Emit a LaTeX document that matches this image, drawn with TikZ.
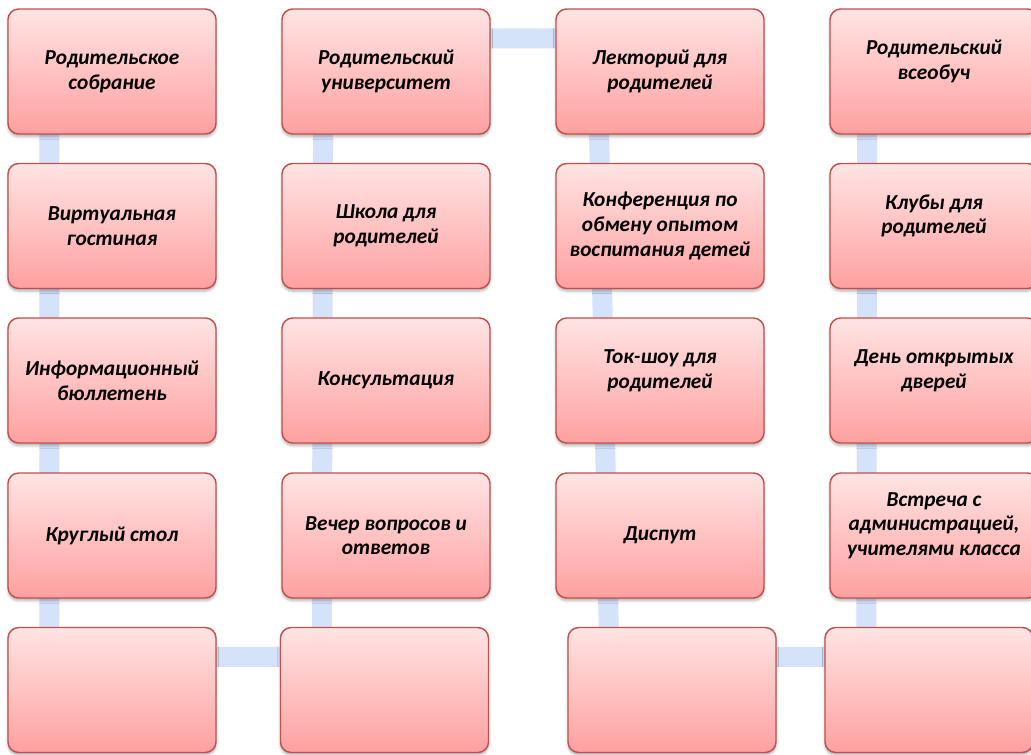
\documentclass[tikz,border=0pt]{standalone}
\usepackage{fontspec}
\setmainfont{Carlito}
\usetikzlibrary{calc, backgrounds, shadows.blur}
\definecolor{boxred}{RGB}{192,80,77}
\definecolor{boxtop}{RGB}{255,228,228}
\definecolor{boxbot}{RGB}{255,160,160}
\definecolor{linkblue}{RGB}{212,226,250}

\begin{document}
\begin{tikzpicture}[x=0.75pt, y=-0.75pt,
	boxtext/.style={align=center, font=\fontsize{16}{18.5}\selectfont\bfseries\itshape},
	box/.style={boxtext, draw=boxred, line width=1.1pt, rounded corners=8pt,
		top color=boxtop, bottom color=boxbot,
		minimum width=156pt, minimum height=93.75pt,
		blur shadow={shadow xshift=0pt, shadow yshift=-2pt, shadow blur steps=6, shadow opacity=30}},
	boxup/.style={box, label={[boxtext, yshift=7.5pt]center:{#1}}},
	link/.style={draw=linkblue, line width=15pt}]
\useasboundingbox (0,0) rectangle (1031,754);
%========================
% row 1
%========================
\node[box] (c1r1) at (112,71.5) {Родительское\\собрание};
\node[box] (c2r1) at (386,71.5) {Родительский\\университет};
\node[box] (c3r1) at (660,71.5) {Лекторий для\\родителей};
\node[boxup={Родительский\\всеобуч}] (c4r1) at (934,71.5) {};
%========================
% row 2
%========================
\node[box] (c1r2) at (112,226) {Виртуальная\\гостиная};
\node[box] (c2r2) at (386,226) {Школа для\\родителей};
\node[box] (c3r2) at (660,226) {Конференция по\\обмену опытом\\воспитания детей};
\node[boxup={Клубы для\\родителей}] (c4r2) at (934,226) {};
%========================
% row 3
%========================
\node[box] (c1r3) at (112,380.5) {Информационный\\бюллетень};
\node[box] (c2r3) at (386,380.5) {Консультация};
\node[boxup={Ток-шоу для\\родителей}] (c3r3) at (660,380.5) {};
\node[boxup={День открытых\\дверей}] (c4r3) at (934,380.5) {};
%========================
% row 4
%========================
\node[box] (c1r4) at (112,535.5) {Круглый стол};
\node[box] (c2r4) at (386,535.5) {Вечер вопросов и\\ответов};
\node[box] (c3r4) at (660,535.5) {Диспут};
\node[boxup={Встреча с\\администрацией,\\учителями класса}] (c4r4) at (934,535.5) {};
%========================
% row 5 (empty boxes)
%========================
\node[box] (c1r5) at (112,690) {};
\node[box] (c2r5) at (384.5,690) {};
\node[box] (c3r5) at (672,690) {};
\node[box] (c4r5) at (929,690) {};

% snake connector behind the boxes
\begin{scope}[on background layer]
	\draw[link] ($(c1r1.north west)+(42,30)$) -- ($(c1r5.north west)+(42,30)$)
		-- ($(c2r5.north west)+(42,30)$) -- ($(c2r1.north west)+(42,30)$)
		-- ($(c3r1.north west)+(42,30)$) -- ($(c3r5.north west)+(42,30)$)
		-- ($(c4r5.north west)+(42,30)$) -- ($(c4r1.north west)+(38,30)$);
\end{scope}
\end{tikzpicture}
\end{document}
